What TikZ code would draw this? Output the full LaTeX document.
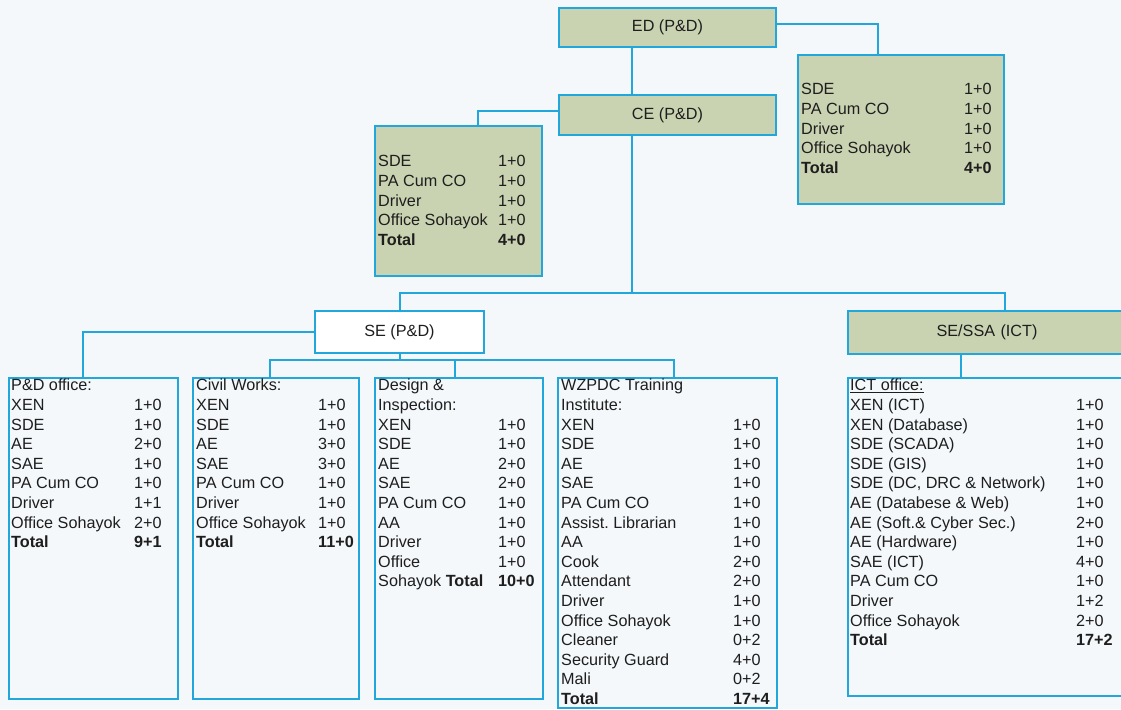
\documentclass[tikz,border=0pt]{standalone}
\usepackage{fontspec}
\setmainfont{Liberation Sans}
\usepackage{array}
\usetikzlibrary{positioning}
\definecolor{orgline}{HTML}{22A7DC}
\definecolor{orgfill}{HTML}{C9D3B1}
\definecolor{orgback}{HTML}{F4F8FB}
\definecolor{orgtext}{HTML}{1E1E1E}
\frenchspacing

\begin{document}
\begin{tikzpicture}[
  x=1pt, y=-1pt,
  every node/.style={font=\fontsize{16.2}{19.6}\selectfont, text=orgtext},
  post/.style={
    rectangle, draw=orgline, line width=2pt, inner sep=0pt,
    anchor=north west
  },
  head/.style={post, fill=orgfill},
  plainhead/.style={post, fill=white},
  unit/.style={post, fill=orgback},
  roster/.style={anchor=north west, inner sep=0pt, align=left},
  link/.style={draw=orgline, line width=2pt}
]

\useasboundingbox (0,0) rectangle (1121,709);
\clip (0,0) rectangle (1121,709);
\fill[orgback] (0,0) rectangle (1121,709);

% Top level
\node[head, minimum width=217, minimum height=39] (ED) at (558,7) {ED (P\&D)};
\node[head, minimum width=217, minimum height=40] (CE) at (558,94) {CE (P\&D)};

% Staff of ED and CE
\node[head, minimum width=206, minimum height=149] (edstaff) at (797,54) {};
\node[roster] at ([xshift=4pt, yshift=-27pt]edstaff.north west) {%
  \begin{tabular}{@{}p{163pt}@{}l@{}}
  SDE & 1+0\\ PA Cum CO & 1+0\\ Driver & 1+0\\ Office Sohayok & 1+0\\
  \textbf{Total} & \textbf{4+0}
  \end{tabular}};

\node[head, minimum width=167, minimum height=150] (cestaff) at (374,125) {};
\node[roster] at ([xshift=4pt, yshift=-28pt]cestaff.north west) {%
  \begin{tabular}{@{}p{120pt}@{}l@{}}
  SDE & 1+0\\ PA Cum CO & 1+0\\ Driver & 1+0\\ Office Sohayok & 1+0\\
  \textbf{Total} & \textbf{4+0}
  \end{tabular}};

% Superintending engineers
\node[plainhead, minimum width=169, minimum height=42] (SEpd) at (314,310) {SE (P\&D)};
\node[head, minimum width=278, minimum height=43, text width=278, align=center]
  (SEssa) at (847,310) {SE/SSA (ICT)};

% Offices under SE (P&D)
\node[unit, minimum width=169, minimum height=321] (pdoff) at (8,377) {};
\node[roster] at ([xshift=3pt]pdoff.north west) {%
  \begin{tabular}{@{}p{123pt}@{}l@{}}
  P\&D office: & \\
  XEN & 1+0\\ SDE & 1+0\\ AE & 2+0\\ SAE & 1+0\\ PA Cum CO & 1+0\\
  Driver & 1+1\\ Office Sohayok & 2+0\\
  \textbf{Total} & \textbf{9+1}
  \end{tabular}};

\node[unit, minimum width=166, minimum height=321] (civil) at (192,377) {};
\node[roster] at ([xshift=4pt]civil.north west) {%
  \begin{tabular}{@{}p{122pt}@{}l@{}}
  Civil Works: & \\
  XEN & 1+0\\ SDE & 1+0\\ AE & 3+0\\ SAE & 3+0\\ PA Cum CO & 1+0\\
  Driver & 1+0\\ Office Sohayok & 1+0\\
  \textbf{Total} & \textbf{11+0}
  \end{tabular}};

\node[unit, minimum width=168, minimum height=321] (design) at (374,377) {};
\node[roster] at ([xshift=4pt]design.north west) {%
  \begin{tabular}{@{}p{120pt}@{}l@{}}
  Design \& & \\ Inspection: & \\
  XEN & 1+0\\ SDE & 1+0\\ AE & 2+0\\ SAE & 2+0\\ PA Cum CO & 1+0\\
  AA & 1+0\\ Driver & 1+0\\ Office & 1+0\\
  Sohayok \textbf{Total} & \textbf{10+0}
  \end{tabular}};

\node[unit, minimum width=219, minimum height=330] (wzpdc) at (557,377) {};
\node[roster] at ([xshift=4pt]wzpdc.north west) {%
  \begin{tabular}{@{}p{172pt}@{}l@{}}
  WZPDC Training & \\ Institute: & \\
  XEN & 1+0\\ SDE & 1+0\\ AE & 1+0\\ SAE & 1+0\\ PA Cum CO & 1+0\\
  Assist. Librarian & 1+0\\ AA & 1+0\\ Cook & 2+0\\ Attendant & 2+0\\
  Driver & 1+0\\ Office Sohayok & 1+0\\ Cleaner & 0+2\\
  Security Guard & 4+0\\ Mali & 0+2\\
  \textbf{Total} & \textbf{17+4}
  \end{tabular}};

% ICT office
\node[unit, minimum width=278, minimum height=318] (ict) at (847,377) {};
\node[roster] at ([xshift=3pt]ict.north west) {%
  \begin{tabular}{@{}p{226pt}@{}l@{}}
  \underline{ICT office:} & \\
  XEN (ICT) & 1+0\\ XEN (Database) & 1+0\\ SDE (SCADA) & 1+0\\
  SDE (GIS) & 1+0\\ SDE (DC, DRC \& Network) & 1+0\\
  AE (Databese \& Web) & 1+0\\ AE (Soft.\& Cyber Sec.) & 2+0\\
  AE (Hardware) & 1+0\\ SAE (ICT) & 4+0\\ PA Cum CO & 1+0\\
  Driver & 1+2\\ Office Sohayok & 2+0\\
  \textbf{Total} & \textbf{17+2}
  \end{tabular}};

% Connectors
\coordinate (sebar) at (0,293);
\coordinate (secbar) at (0,360);

\draw[link] ([xshift=-36pt]ED.south) -- ([xshift=-36pt]CE.north);
\draw[link] ([yshift=3pt]ED.east) -| ([xshift=-23pt]edstaff.north);
\draw[link] ([yshift=4pt]CE.west) -| ([xshift=19pt]cestaff.north);
\draw[link] ([xshift=-36pt]CE.south) -- ([xshift=-36pt]CE.south |- sebar);
\draw[link] (SEpd.north) |- ([xshift=18pt]SEssa.north |- sebar)
  -- ([xshift=18pt]SEssa.north);

\draw[link] (SEpd.west) -| ([xshift=-11pt]pdoff.north);
\draw[link] (SEpd.south) -- (SEpd.south |- secbar);
\draw[link] ([xshift=-6pt]civil.north) |- ([xshift=6pt]wzpdc.north |- secbar)
  -- ([xshift=6pt]wzpdc.north);
\draw[link] ([xshift=-4pt]design.north) -- ([xshift=-4pt]design.north |- secbar);

\draw[link] ([xshift=-26pt]SEssa.south) -- ([xshift=-26pt]ict.north);

\end{tikzpicture}
\end{document}
